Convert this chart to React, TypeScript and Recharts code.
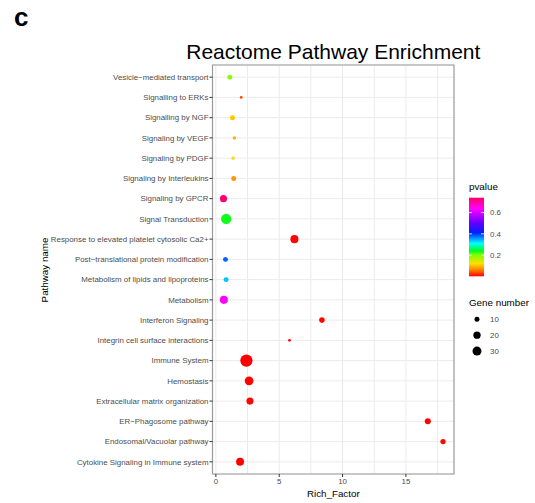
import {
  CartesianGrid,
  Cell,
  ReferenceArea,
  Scatter,
  ScatterChart,
  XAxis,
  YAxis,
  ZAxis,
} from "recharts";

const FONT = '"Liberation Sans", Arial, Helvetica, sans-serif';
const TICK_GRAY = "#4d4d4d";
const GRID = "#ebebeb";
const BORDER = "#9a9a9a";

// pathways, top to bottom as drawn
const CATEGORIES = [
  "Vesicle\u2212mediated transport",
  "Signalling to ERKs",
  "Signalling by NGF",
  "Signaling by VEGF",
  "Signaling by PDGF",
  "Signaling by Interleukins",
  "Signaling by GPCR",
  "Signal Transduction",
  "Response to elevated platelet cytosolic Ca2+",
  "Post\u2212translational protein modification",
  "Metabolism of lipids and lipoproteins",
  "Metabolism",
  "Interferon Signaling",
  "Integrin cell surface interactions",
  "Immune System",
  "Hemostasis",
  "Extracellular matrix organization",
  "ER\u2212Phagosome pathway",
  "Endosomal/Vacuolar pathway",
  "Cytokine Signaling in Immune system",
];
const RICH_FACTOR = [1.1, 2.0, 1.31, 1.46, 1.36, 1.41, 0.6, 0.81, 6.2, 0.76, 0.81, 0.63, 8.37, 5.81, 2.41, 2.62, 2.69, 16.73, 17.93, 1.91];
const P_VALUE = [0.19, 0.035, 0.105, 0.09, 0.115, 0.075, 0.73, 0.235, 0.002, 0.38, 0.337, 0.64, 0.003, 0.004, 0.0001, 0.001, 0.002, 0.001, 0.003, 0.001];
const GENE_NUMBER = [10, 4, 10, 5, 5, 10, 19, 39, 24, 10, 10, 24, 12, 4, 55, 28, 19, 14, 11, 24];

const X_TICKS = [0, 5, 10, 15];
const X_GRID = [0, 2.5, 5, 7.5, 10, 12.5, 15, 17.5];
const P_TICKS = [0.2, 0.4, 0.6];
const P_MAX = 0.74;
const SIZE_BREAKS = [10, 20, 30];

// rainbow ramp
const P_STOPS: [number, string][] = [
  [0, "#ff0000"],
  [0.06, "#ff8000"],
  [0.12, "#ffe000"],
  [0.2, "#80ff00"],
  [0.24, "#00ff20"],
  [0.31, "#00ffff"],
  [0.36, "#0090ff"],
  [0.41, "#0020ff"],
  [0.5, "#6000ff"],
  [0.58, "#c000ff"],
  [0.64, "#ff00ff"],
  [0.74, "#ff0060"],
];

// same area mapping as the ZAxis below
const Z_DOMAIN = [2, 60];
const Z_RANGE = [2, 129.6];

function hex(c: string) {
  return [1, 3, 5].map((i) => parseInt(c.slice(i, i + 2), 16));
}

function pColor(p: number): string {
  for (let i = 1; i < P_STOPS.length; i++) {
    const [p1, c1] = P_STOPS[i];
    const [p0, c0] = P_STOPS[i - 1];
    if (p <= p1) {
      const t = (p - p0) / (p1 - p0);
      const a = hex(c0);
      const b = hex(c1);
      const m = a.map((v, k) => Math.round(v + (b[k] - v) * t));
      return `rgb(${m[0]},${m[1]},${m[2]})`;
    }
  }
  return P_STOPS[P_STOPS.length - 1][1];
}

function sizeRadius(n: number) {
  const area = Z_RANGE[0] + ((n - Z_DOMAIN[0]) / (Z_DOMAIN[1] - Z_DOMAIN[0])) * (Z_RANGE[1] - Z_RANGE[0]);
  return Math.sqrt(area / Math.PI);
}

const xMin = Math.min(...RICH_FACTOR);
const xMax = Math.max(...RICH_FACTOR);
const xPad = (xMax - xMin) * 0.05;
const X_DOMAIN = [xMin - xPad, xMax + xPad];
const Y_DOMAIN = [-0.6, CATEGORIES.length - 1 + 0.6];

// major + minor vertical grid, placed like the x scale does
function verticalGrid({ xAxis, offset }: any) {
  const s = xAxis?.scale;
  return X_GRID.map((v) => {
    if (typeof s === "function") return s(v);
    if (s && typeof s.map === "function") return s.map(v);
    return offset.left + ((v - X_DOMAIN[0]) / (X_DOMAIN[1] - X_DOMAIN[0])) * offset.width;
  });
}

// single-line category labels (Recharts would wrap the long ones)
function PathwayTick({ x, y, payload }: any) {
  return (
    <text x={x} y={y} dy="0.35em" textAnchor="end" fontSize={7.9} fontFamily={FONT} fill={TICK_GRAY}>
      {CATEGORIES[payload.value]}
    </text>
  );
}

function RichTick({ x, y, payload }: any) {
  return (
    <text x={x} y={y} dy="0.75em" textAnchor="middle" fontSize={7.9} fontFamily={FONT} fill={TICK_GRAY}>
      {payload.value}
    </text>
  );
}

export default function App() {
  const data = CATEGORIES.map((name, i) => ({
    name,
    x: RICH_FACTOR[i],
    y: i,
    z: GENE_NUMBER[i],
    p: P_VALUE[i],
  }));

  // colour bar geometry
  const barX = 469;
  const barTop = 197.7;
  const barH = 78.6;
  const pToY = (p: number) => barTop + barH * (1 - p / P_MAX);

  return (
    <div
      style={{
        position: "absolute",
        left: 0,
        top: 0,
        width: 535,
        height: 503,
        background: "#fff",
        fontFamily: FONT,
      }}
    >
      <ScatterChart width={535} height={503} margin={{ top: 65, right: 81, bottom: 0, left: 0 }}>
        <CartesianGrid stroke={GRID} strokeWidth={1} verticalCoordinatesGenerator={verticalGrid} />
        <XAxis
          type="number"
          dataKey="x"
          domain={X_DOMAIN}
          ticks={X_TICKS}
          allowDataOverflow
          height={29}
          tickSize={3}
          tickMargin={1}
          axisLine={false}
          tickLine={{ stroke: "#333" }}
          tick={<RichTick />}
        />
        <YAxis
          type="number"
          dataKey="y"
          domain={Y_DOMAIN}
          reversed
          allowDataOverflow
          ticks={CATEGORIES.map((_, i) => i)}
          interval={0}
          width={212.5}
          tickSize={3}
          tickMargin={1}
          axisLine={false}
          tickLine={{ stroke: "#333" }}
          tick={<PathwayTick />}
        />
        <ZAxis type="number" dataKey="z" domain={Z_DOMAIN} range={Z_RANGE} />
        <ReferenceArea
          x1={X_DOMAIN[0]}
          x2={X_DOMAIN[1]}
          y1={Y_DOMAIN[0]}
          y2={Y_DOMAIN[1]}
          fill="none"
          stroke={BORDER}
          strokeWidth={1.2}
          ifOverflow="visible"
        />
        <Scatter data={data} isAnimationActive={false}>
          {data.map((d) => (
            <Cell key={d.name} fill={pColor(d.p)} stroke="none" />
          ))}
        </Scatter>
      </ScatterChart>

      <svg
        width={535}
        height={503}
        style={{ position: "absolute", left: 0, top: 0, pointerEvents: "none", fontFamily: FONT }}
      >
        <text x={14} y={26} fontSize={26} fontWeight="bold" fill="#000">
          c
        </text>
        <text x={333.3} y={58.5} fontSize={21} textAnchor="middle" fill="#000">
          Reactome Pathway Enrichment
        </text>
        <text x={333.3} y={497} fontSize={9.8} textAnchor="middle" fill="#000">
          Rich_Factor
        </text>
        <text
          x={47.5}
          y={270}
          fontSize={9.8}
          textAnchor="middle"
          fill="#000"
          transform="rotate(-90 47.5 270)"
        >
          Pathway name
        </text>

        {/* pvalue colour bar */}
        <defs>
          <linearGradient id="pgrad" x1="0" y1="1" x2="0" y2="0">
            {P_STOPS.map(([p, c]) => (
              <stop key={p} offset={p / P_MAX} stopColor={c} />
            ))}
          </linearGradient>
        </defs>
        <text x={barX} y={190} fontSize={9.8} fill="#000">
          pvalue
        </text>
        <rect x={barX} y={barTop} width={15} height={barH} fill="url(#pgrad)" />
        {P_TICKS.map((p) => (
          <g key={p}>
            <line x1={barX} x2={barX + 3} y1={pToY(p)} y2={pToY(p)} stroke="#fff" strokeWidth={0.8} />
            <line x1={barX + 12} x2={barX + 15} y1={pToY(p)} y2={pToY(p)} stroke="#fff" strokeWidth={0.8} />
            <text x={490} y={pToY(p)} dy="0.35em" fontSize={7.9} fill={TICK_GRAY}>
              {p.toFixed(1)}
            </text>
          </g>
        ))}

        {/* gene number legend */}
        <text x={barX} y={306} fontSize={9.8} fill="#000">
          Gene number
        </text>
        {SIZE_BREAKS.map((n, i) => (
          <g key={n}>
            <circle cx={477} cy={319.3 + i * 15.9} r={sizeRadius(n)} fill="#000" />
            <text x={490} y={319.3 + i * 15.9} dy="0.35em" fontSize={7.9} fill={TICK_GRAY}>
              {n}
            </text>
          </g>
        ))}
      </svg>
    </div>
  );
}
